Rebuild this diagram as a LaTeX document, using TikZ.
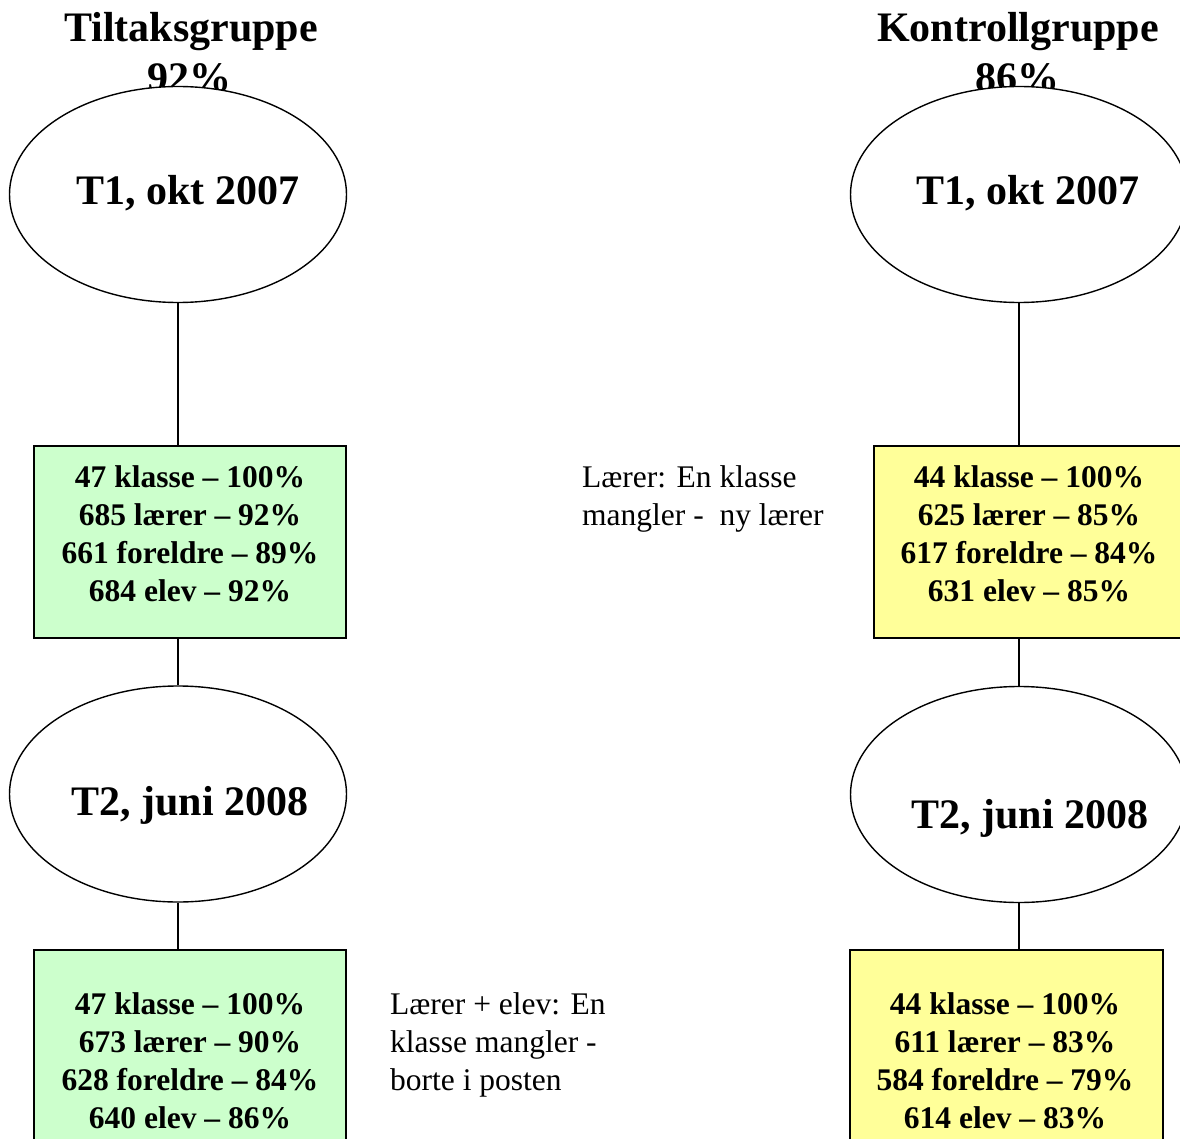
\documentclass[tikz,border=0pt]{standalone}
\usepackage{fontspec}
\setmainfont{Liberation Serif}
\usetikzlibrary{shapes.geometric}
\definecolor{boxgreen}{HTML}{CCFFCC}
\definecolor{boxyellow}{HTML}{FFFF99}
\begin{document}
\begin{tikzpicture}[x=1pt,y=-1pt,
  oval/.style={ellipse,draw,line width=1.4pt,fill=white,minimum width=337pt,minimum height=216pt,inner sep=0pt},
  databox/.style={rectangle,draw,line width=2pt,minimum width=312pt,minimum height=192pt,inner sep=0pt},
  big/.style={font=\fontsize{42}{48}\selectfont\bfseries,inner sep=0pt,anchor=base},
  data/.style={font=\fontsize{31.5}{38}\selectfont\bfseries,align=center,inner sep=0pt,anchor=base},
  note/.style={font=\fontsize{31.5}{38}\selectfont,align=left,inner sep=0pt,anchor=base west},
  conn/.style={line width=1.4pt}]
\useasboundingbox (0,0) rectangle (1180,1139);
\clip (0,0) rectangle (1180,1139);
\fill[white] (0,0) rectangle (1180,1139);

% titles
\node[big] (titleL) at (191,42) {Tiltaksgruppe};
\node[big] (pctL) at (189,92) {92\%};
\node[big] (titleR) at (1018,42) {Kontrollgruppe};
\node[big] (pctR) at (1017,92) {86\%};

% ellipses
\node[oval] (L1) at (178,194.5) {};
\node[oval] (L2) at (178,794) {};
\node[oval] (R1) at (1019,194.5) {};
\node[oval] (R2) at (1019,794.5) {};
\node[big] (L1t) at (188,205) {T1, okt 2007};
\node[big] (L2t) at (190,815) {T2, juni 2008};
\node[big] (R1t) at (1028,205) {T1, okt 2007};
\node[big] (R2t) at (1030,828) {T2, juni 2008};

% boxes
\node[databox,fill=boxgreen] (BL1) at (190,541.5) {};
\node[databox,fill=boxgreen] (BL2) at (190,1046) {};
\node[databox,fill=boxyellow] (BR1) at (1030,541.5) {};
\node[databox,fill=boxyellow,minimum width=313pt] (BR2) at (1006.5,1046) {};

% multi-line nodes: base anchor is the baseline of the last line
\node[data] (BL1t) at (190,601) {47 klasse -- 100\%\\685 lærer -- 92\%\\661 foreldre -- 89\%\\684 elev -- 92\%};
\node[data] (BL2t) at (190,1128) {47 klasse -- 100\%\\673 lærer -- 90\%\\628 foreldre -- 84\%\\640 elev -- 86\%};
\node[data] (BR1t) at (1029,601) {44 klasse -- 100\%\\625 lærer -- 85\%\\617 foreldre -- 84\%\\631 elev -- 85\%};
\node[data] (BR2t) at (1005,1128) {44 klasse -- 100\%\\611 lærer -- 83\%\\584 foreldre -- 79\%\\614 elev -- 83\%};

% notes
\node[note] (N1) at (582,525) {Lærer: En klasse\\mangler -\ \ ny lærer};
\node[note] (N2) at (390,1090) {Lærer + elev: En\\klasse mangler -\\borte i posten};

% connectors
\draw[conn] (L1.south) -- (L1.south |- BL1.north);
\draw[conn] (L1.south |- BL1.south) -- (L2.north);
\draw[conn] (L2.south) -- (L2.south |- BL2.north);
\draw[conn] (R1.south) -- (R1.south |- BR1.north);
\draw[conn] (R1.south |- BR1.south) -- (R2.north);
\draw[conn] (R2.south) -- (R2.south |- BR2.north);
\end{tikzpicture}
\end{document}
